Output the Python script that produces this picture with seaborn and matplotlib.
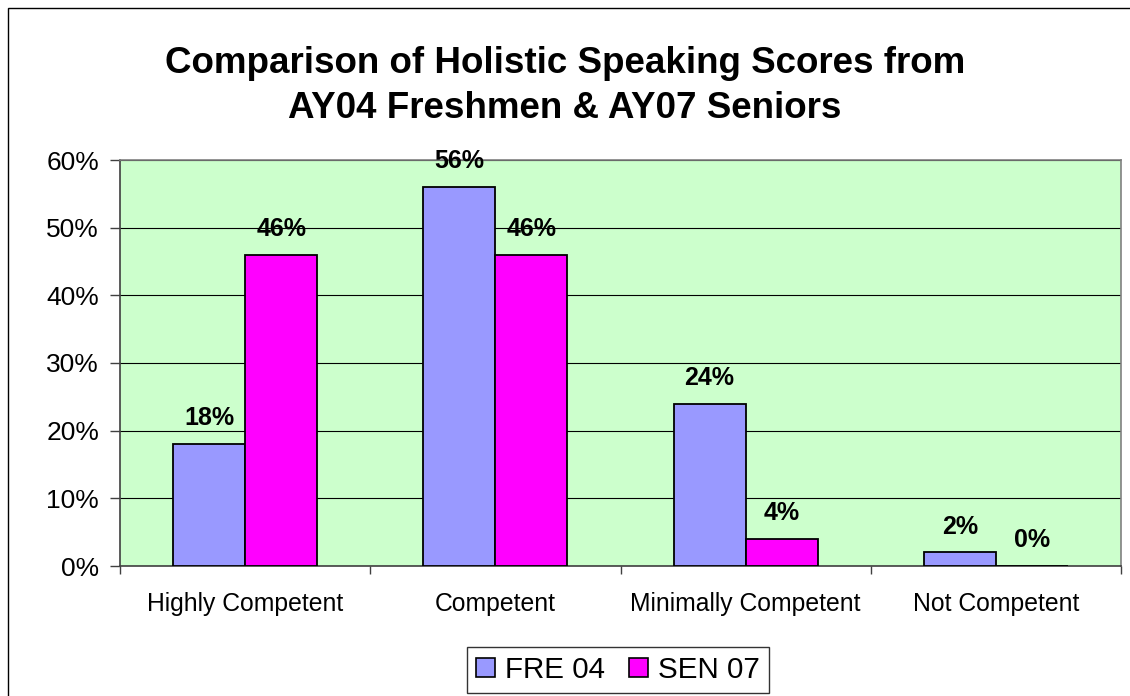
import matplotlib
matplotlib.use("Agg")
import matplotlib.pyplot as plt
import seaborn as sns
import pandas as pd
from matplotlib.patches import Rectangle
from matplotlib.ticker import FuncFormatter, FixedLocator

categories = ["Highly Competent", "Competent", "Minimally Competent", "Not Competent"]
series_names = ["FRE 04", "SEN 07"]
fre04 = [18, 56, 24, 2]
sen07 = [46, 46, 4, 0]
colors = ["#9999FF", "#FF00FF"]
title = "Comparison of Holistic Speaking Scores from\nAY04 Freshmen & AY07 Seniors"

df = pd.DataFrame({
    "category": categories * 2,
    "series": [series_names[0]] * 4 + [series_names[1]] * 4,
    "value": fre04 + sen07,
})

sns.set_theme(style="white")
plt.rcParams["font.family"] = ["Liberation Sans", "DejaVu Sans"]
plt.rcParams["text.color"] = "black"
plt.rcParams["xtick.color"] = "black"
plt.rcParams["ytick.color"] = "black"
plt.rcParams["xtick.labelcolor"] = "black"
plt.rcParams["ytick.labelcolor"] = "black"

fig = plt.figure(figsize=(11.3, 6.96), dpi=100)
ax = fig.add_axes([120/1130, 1 - 566/696, (1121-120)/1130, (566-160)/696])
ax.set_facecolor("#CCFFCC")

sns.barplot(data=df, x="category", y="value", hue="series", order=categories,
            hue_order=series_names, palette=colors, saturation=1, width=0.576,
            edgecolor="black", linewidth=1.3, ax=ax, legend=True, zorder=3)

for cont in ax.containers:
    ax.bar_label(cont, labels=[f"{v:.0f}%" for v in cont.datavalues],
                 padding=10, fontsize=18, fontweight="bold", color="black")

ax.set_ylim(0, 60)
ax.set_xlim(-0.5, 3.5)
ax.set_yticks(range(0, 61, 10))
ax.yaxis.set_major_formatter(FuncFormatter(lambda v, p: f"{v:.0f}%"))
ax.grid(axis="y", color="black", linewidth=0.8, zorder=0)
ax.set_axisbelow(True)
ax.tick_params(axis="y", which="major", left=True, length=7, width=1, color="#404040",
               labelsize=19, pad=8, direction="out")
ax.tick_params(axis="x", which="major", length=0, labelsize=17.8, pad=19)
ax.xaxis.set_minor_locator(FixedLocator([-0.5, 0.5, 1.5, 2.5, 3.5]))
ax.tick_params(axis="x", which="minor", bottom=True, length=6, width=1, color="#404040",
               direction="out")
ax.set_xlabel("")
ax.set_ylabel("")
for s in ["top", "right"]:
    ax.spines[s].set_color("#808080")
    ax.spines[s].set_linewidth(1.2)
for s in ["left", "bottom"]:
    ax.spines[s].set_color("#404040")
    ax.spines[s].set_linewidth(1.2)

leg = ax.legend(loc="center", bbox_to_anchor=(618/1130, 1 - 670/696),
                bbox_transform=fig.transFigure, ncol=2, fontsize=21.3, frameon=True,
                fancybox=False, edgecolor="black", handlelength=0.65, handleheight=0.65,
                handletextpad=0.35, columnspacing=0.8, borderpad=0.3)
leg.get_frame().set_linewidth(1.0)
for h in leg.legend_handles:
    h.set_edgecolor("black")
    h.set_linewidth(1.2)

fig.text(565/1130, 1 - 86/696, title, ha="center", va="center", fontsize=26.5,
         fontweight="bold", linespacing=1.38)

fig.patches.append(Rectangle((8/1130, -0.2), 1.3, 1.2 - 8/696, transform=fig.transFigure,
                             fill=False, edgecolor="black", linewidth=1.0, zorder=-1))

fig.savefig("out.png", dpi=100, facecolor="white")
